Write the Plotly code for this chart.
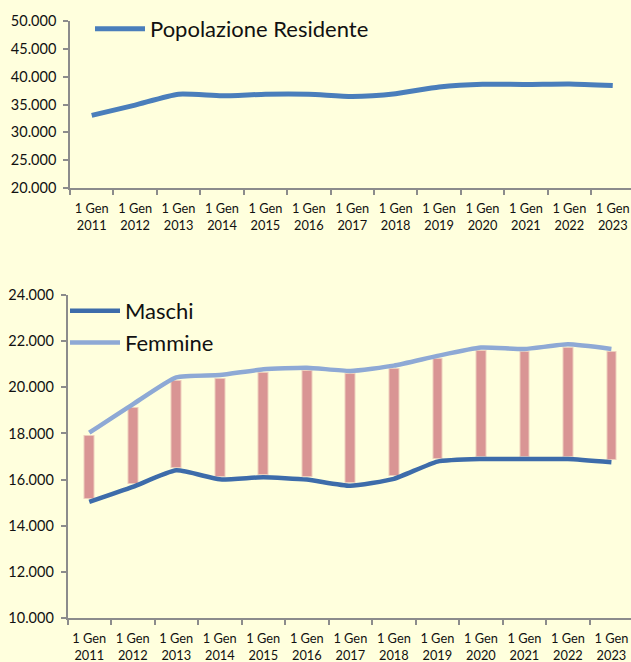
import plotly.graph_objects as go

# ---- data ----
anni = ["2011", "2012", "2013", "2014", "2015", "2016", "2017",
        "2018", "2019", "2020", "2021", "2022", "2023"]
categorie = ["1 Gen<br>" + a for a in anni]
popolazione = [33050, 34900, 36850, 36550, 36850, 36850, 36450,
               36950, 38150, 38650, 38600, 38700, 38400]
maschi = [15030, 15680, 16400, 16010, 16100, 16000, 15730,
          16030, 16780, 16890, 16890, 16890, 16750]
femmine = [18030, 19260, 20430, 20530, 20780, 20850, 20710,
           20940, 21360, 21720, 21660, 21860, 21660]

# ---- style ----
BG = "#FFFFDD"
FONT = "Lato"
AXC = "#8C8C8C"
gap = 150
bar_base = [m + gap for m in maschi]
bar_len = [f - m - 2 * gap for m, f in zip(maschi, femmine)]

fig = go.Figure()

fig.add_trace(go.Scatter(
    x=categorie, y=popolazione, mode="lines", name="Popolazione Residente",
    line=dict(color="#4A7EBB", width=5, shape="spline", smoothing=0.6),
    xaxis="x", yaxis="y", legend="legend"))

fig.add_trace(go.Bar(
    x=categorie, y=bar_len, base=bar_base, width=0.2,
    marker=dict(color="#D99594", line=dict(color="rgba(217,149,148,0.45)", width=2)),
    showlegend=False, xaxis="x2", yaxis="y2", hoverinfo="skip"))

fig.add_trace(go.Scatter(
    x=categorie, y=maschi, mode="lines", name="Maschi",
    line=dict(color="#3D6CAA", width=4.5, shape="spline", smoothing=0.5),
    xaxis="x2", yaxis="y2", legend="legend2"))

fig.add_trace(go.Scatter(
    x=categorie, y=femmine, mode="lines", name="Femmine",
    line=dict(color="#8EA9D5", width=4.5, shape="spline", smoothing=0.5),
    xaxis="x2", yaxis="y2", legend="legend2"))

W, H = 631, 662
axis_common = dict(showline=True, linecolor=AXC, linewidth=1.5, ticks="outside",
                   tickcolor=AXC, ticklen=5, tickwidth=1.5, showgrid=False,
                   zeroline=False, automargin=False)

fig.update_layout(
    width=W, height=H,
    margin=dict(l=0, r=0, t=0, b=0, autoexpand=False),
    paper_bgcolor=BG, plot_bgcolor=BG,
    separators=",.",
    font=dict(family=FONT, color="#111111"),
    bargap=0,
    xaxis=dict(domain=[70 / W, 1], anchor="y", type="category",
               range=[-0.5, 12.42], tickson="boundaries",
               tickfont=dict(size=12.8), ticklabelstandoff=8, **axis_common),
    yaxis=dict(domain=[1 - 188 / H, 1 - 21 / H], anchor="x",
               range=[20000, 50000], dtick=5000, tickformat=",d",
               tickfont=dict(size=14.5), ticklabelstandoff=4, **axis_common),
    xaxis2=dict(domain=[67.5 / W, 1], anchor="y2", type="category",
                range=[-0.5, 12.45], tickson="boundaries",
                tickfont=dict(size=12.8), ticklabelstandoff=8, **axis_common),
    yaxis2=dict(domain=[1 - 618 / H, 1 - 295 / H], anchor="x2",
                range=[10000, 24000], dtick=2000, tickformat=",d",
                tickfont=dict(size=14.5), ticklabelstandoff=4, **axis_common),
    legend=dict(x=90 / W, y=1 - 8 / H, xanchor="left", yanchor="top",
                bgcolor="rgba(0,0,0,0)", font=dict(size=22, color="#111111"),
                itemwidth=50),
    legend2=dict(x=65 / W, y=1 - 290 / H, xanchor="left", yanchor="top",
                 bgcolor="rgba(0,0,0,0)", font=dict(size=22, color="#111111"),
                 itemwidth=50, tracegroupgap=0),
)

fig.write_html("out.html", config={"displayModeBar": False},
               post_script="document.body.style.margin='0px';"
                           "document.body.style.overflow='hidden';")
